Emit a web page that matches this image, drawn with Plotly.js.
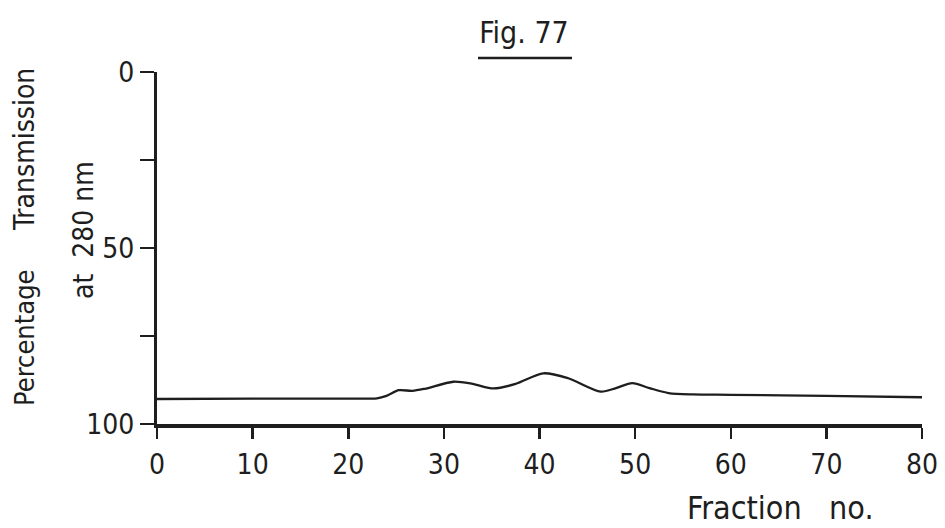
<!DOCTYPE html>
<html>
<head>
<meta charset="utf-8">
<script src="https://cdn.plot.ly/plotly-3.0.1.min.js"></script>
<style>
  html, body { margin: 0; padding: 0; background: #ffffff; }
  #chart { width: 945px; height: 528px; }
</style>
</head>
<body>
<div id="chart"></div>
<script>
// ---- data ----
const fractionNo = [0, 10, 20, 23, 24, 25.3, 26.7, 28, 31, 33, 35.2, 37.5, 40.4, 43, 46.4, 48, 49.7, 51.5, 53.5, 56, 60, 70, 80];
const transmission = [92.9, 92.8, 92.8, 92.7, 92.0, 90.4, 90.6, 90.0, 88.0, 88.6, 89.9, 88.6, 85.6, 87.0, 90.8, 89.8, 88.4, 89.8, 91.2, 91.6, 91.7, 92.0, 92.4];

const xTickVals = [0, 10, 20, 30, 40, 50, 60, 70, 80];
const xTickText = ["0", "10", "20", "30", "40", "50", "60", "70", "80"];
const yTickVals = [0, 25, 50, 75, 100];
const yTickText = ["0", "", "50", "", "100"];

const ink = "#1e1e1e";
const fontFam = "DejaVu Sans Condensed, DejaVu Sans, sans-serif";

const trace = {
  x: fractionNo,
  y: transmission,
  type: "scatter",
  mode: "lines",
  line: { color: ink, width: 2.3, shape: "spline", smoothing: 0.8 },
  hoverinfo: "skip",
  showlegend: false
};

// plot area: x 157..922 px, y 72..424 px
const L = 157, R = 922, T = 72, B = 424;
const px = v => (v - L) / (R - L);
const py = v => (B - v) / (B - T);

const layout = {
  width: 945,
  height: 528,
  margin: { l: L, r: 945 - R, t: T, b: 528 - B, pad: 0 },
  paper_bgcolor: "#ffffff",
  plot_bgcolor: "#ffffff",
  font: { family: fontFam, color: ink },
  title: {
    text: "Fig. 77",
    font: { family: fontFam, size: 30, color: ink },
    x: 524 / 945, xanchor: "center",
    y: 1 - 32 / 528, yanchor: "middle",
    xref: "container", yref: "container"
  },
  xaxis: {
    range: [0, 80],
    tickmode: "array",
    tickvals: xTickVals,
    ticktext: xTickText,
    ticks: "outside",
    ticklen: 11,
    tickwidth: 2.5,
    tickcolor: ink,
    showline: true,
    linewidth: 3.5,
    linecolor: ink,
    showgrid: false,
    zeroline: false,
    tickfont: { family: fontFam, size: 28, color: ink },
    ticklabelstandoff: 2
  },
  yaxis: {
    range: [100, 0],
    tickmode: "array",
    tickvals: yTickVals,
    ticktext: yTickText,
    ticks: "outside",
    ticklen: 14,
    tickwidth: 2.5,
    tickcolor: ink,
    showline: true,
    linewidth: 3,
    linecolor: ink,
    showgrid: false,
    zeroline: false,
    tickfont: { family: fontFam, size: 28, color: ink },
    ticklabelstandoff: 0
  },
  shapes: [
    {
      type: "line", xref: "paper", yref: "paper",
      x0: px(478), x1: px(572), y0: py(58), y1: py(58),
      line: { color: ink, width: 2.5 }
    }
  ],
  annotations: [
    {
      text: "Transmission", xref: "paper", yref: "paper",
      x: px(24), y: py(150), xanchor: "center", yanchor: "middle",
      textangle: -90, showarrow: false,
      font: { family: fontFam, size: 28, color: ink }
    },
    {
      text: "Percentage", xref: "paper", yref: "paper",
      x: px(24), y: py(338), xanchor: "center", yanchor: "middle",
      textangle: -90, showarrow: false,
      font: { family: fontFam, size: 27, color: ink }
    },
    {
      text: "at\u00A0\u00A0280\u00A0nm", xref: "paper", yref: "paper",
      x: px(83), y: py(230), xanchor: "center", yanchor: "middle",
      textangle: -90, showarrow: false,
      font: { family: fontFam, size: 28, color: ink }
    },
    {
      text: "Fraction\u00A0\u00A0\u00A0no.", xref: "paper", yref: "paper",
      x: px(780), y: py(508), xanchor: "center", yanchor: "middle",
      showarrow: false,
      font: { family: fontFam, size: 32, color: ink }
    }
  ]
};

Plotly.newPlot("chart", [trace], layout, { staticPlot: true, displayModeBar: false });
</script>
</body>
</html>
